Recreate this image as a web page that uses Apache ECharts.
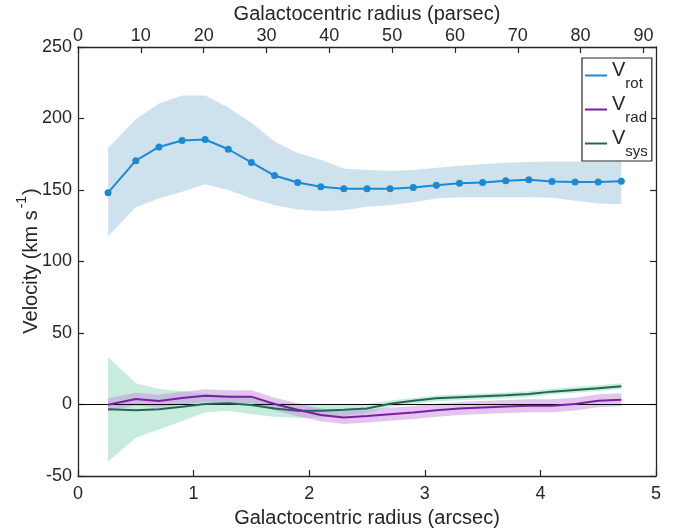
<!DOCTYPE html>
<html>
<head>
<meta charset="utf-8">
<script src="https://cdn.jsdelivr.net/npm/echarts@6/dist/echarts.min.js"></script>
<style>html,body{margin:0;padding:0;background:#fff;}#c{width:692px;height:531px;}</style>
</head>
<body>
<div id="c"></div>
<script>
// Galactocentric radius (arcsec)
var radius = [0.26, 0.5, 0.7, 0.9, 1.1, 1.3, 1.5, 1.7, 1.9, 2.1, 2.3, 2.5, 2.7, 2.9, 3.1, 3.3, 3.5, 3.7, 3.9, 4.1, 4.3, 4.5, 4.7];
// Rotation velocity and its uncertainty envelope
var vRot      = [148.1, 170.5, 180.1, 184.6, 185.3, 178.5, 169.3, 160.1, 155.2, 152.3, 150.9, 150.9, 150.8, 151.8, 153.3, 154.7, 155.2, 156.4, 157.1, 155.9, 155.6, 155.6, 156.1];
var vRotUpper = [179.4, 199.5, 210.5, 216, 216, 207.7, 197, 184, 175.9, 171.2, 165, 164, 163.5, 164, 165.5, 167, 168, 169, 169.5, 170, 170, 170, 170];
var vRotLower = [117.7, 138, 144, 148.8, 154, 150, 144, 139.4, 136.3, 135.4, 135.9, 138.2, 139.4, 141.5, 144, 145, 145, 145, 145, 144.5, 142.5, 140.5, 140];
// Radial velocity and envelope
var vRad      = [-0.2, 3.8, 2.4, 4.5, 6.2, 5.5, 5.5, 0.3, -3.7, -7.3, -9.1, -8, -6.8, -5.6, -4, -2.8, -2.1, -1.4, -0.9, -0.9, 0.3, 2.6, 3.3];
var vRadUpper = [4.3, 8.3, 6.9, 9, 10.7, 10, 10, 4.8, 0.8, -2.8, -4.6, -3.5, -2.3, -1.1, 0.5, 1.7, 2.4, 3.1, 3.6, 3.6, 4.8, 7.1, 7.8];
var vRadLower = [-4.7, -0.7, -2.1, 0, 1.7, 1, 1, -4.2, -8.2, -11.8, -13.6, -12.5, -11.3, -10.1, -8.5, -7.3, -6.6, -5.9, -5.4, -5.4, -4.2, -1.9, -1.2];
// Systemic velocity and envelope
var vSys      = [-3.3, -4, -3.3, -1.6, 0.3, 0.8, -0.4, -2.8, -4.4, -4.4, -3.7, -2.8, 0.5, 2.6, 4.3, 5, 5.7, 6.4, 7.3, 9, 10.2, 11.4, 12.8];
var vSysUpper = [33.3, 14.9, 10.9, 9.3, 7.4, 6.6, 5, 1.5, 0, -0.5, 0, 0.5, 2.8, 4.6, 6.3, 7, 7.7, 8.4, 9.3, 11, 12.2, 13.4, 14.8];
var vSysLower = [-39.8, -23.3, -17.4, -11.5, -5.6, -4.4, -6.8, -8.5, -9.5, -9, -8, -6, -2, 0.6, 2.3, 3, 3.7, 4.4, 5.3, 7, 8.2, 9.4, 10.8];
// Axis ticks
var yTicks = [-50, 0, 50, 100, 150, 200, 250];
var xTicksArcsec = [0, 1, 2, 3, 4, 5];
var xTicksParsec = [0, 10, 20, 30, 40, 50, 60, 70, 80, 90];
var parsecMax = 92;

var FONT = 'Liberation Sans';
var AX = '#262626';

function pairs(ys) { return radius.map(function (x, i) { return [x, ys[i]]; }); }

function band(name, upper, lower, color, z) {
  return {
    type: 'custom',
    name: name,
    z: z,
    silent: true,
    data: [0],
    renderItem: function (params, api) {
      var pts = [];
      for (var i = 0; i < radius.length; i++) pts.push(api.coord([radius[i], upper[i]]));
      for (var j = radius.length - 1; j >= 0; j--) pts.push(api.coord([radius[j], lower[j]]));
      return { type: 'polygon', shape: { points: pts }, style: { fill: color } };
    }
  };
}

var chart = echarts.init(document.getElementById('c'), null, { renderer: 'canvas' });
var axisCommon = {
  axisLine: { show: true, onZero: false, lineStyle: { color: AX, width: 1.3 } },
  axisTick: { show: true, inside: true, length: 6, lineStyle: { color: AX, width: 1.2 } },
  splitLine: { show: false },
  axisLabel: { color: AX, fontFamily: FONT, fontSize: 18 }
};
var option = {
  animation: false,
  backgroundColor: '#fff',
  grid: { left: 78, right: 36, top: 47, bottom: 55, containLabel: false, outerBoundsMode: 'none' },
  xAxis: [
    Object.assign({}, axisCommon, {
      type: 'value', position: 'bottom', min: xTicksArcsec[0], max: xTicksArcsec[xTicksArcsec.length - 1], interval: 1,
      name: 'Galactocentric radius (arcsec)', nameLocation: 'middle', nameGap: 32, nameMoveOverlap: false,
      nameTextStyle: { color: AX, fontFamily: FONT, fontSize: 20 },
      axisLabel: { color: AX, fontFamily: FONT, fontSize: 18, margin: 9 }
    }),
    Object.assign({}, axisCommon, {
      type: 'value', position: 'top', min: xTicksParsec[0], max: parsecMax, interval: 10,
      axisLabel: { color: AX, fontFamily: FONT, fontSize: 18, margin: 2, showMaxLabel: false,
        formatter: function (v) { return xTicksParsec.indexOf(v) >= 0 ? String(v) : ''; } }
    })
  ],
  yAxis: [
    Object.assign({}, axisCommon, {
      type: 'value', position: 'left', min: yTicks[0], max: yTicks[yTicks.length - 1], interval: 50,
      axisLabel: { color: AX, fontFamily: FONT, fontSize: 18, margin: 6 }
    }),
    Object.assign({}, axisCommon, {
      type: 'value', position: 'right', min: yTicks[0], max: yTicks[yTicks.length - 1], interval: 50,
      axisLabel: { show: false }
    })
  ],
  legend: {
    data: ['rot', 'rad', 'sys'],
    orient: 'vertical',
    left: 582, top: 58,
    backgroundColor: '#fff',
    borderColor: AX, borderWidth: 1.2, borderRadius: 0,
    padding: [2, 4, 2, 3],
    itemGap: 3,
    icon: 'rect', itemWidth: 22, itemHeight: 2,
    selectedMode: false,
    formatter: function (n) { return '{v|V}{s|' + n + '}'; },
    textStyle: {
      color: AX, fontFamily: FONT,
      rich: {
        v: { fontSize: 20, lineHeight: 22, verticalAlign: 'top', fontFamily: FONT, color: AX },
        s: { fontSize: 15, lineHeight: 31, verticalAlign: 'bottom', fontFamily: FONT, color: AX }
      }
    }
  },
  graphic: [
    {
      type: 'text', x: 367, y: 14, z: 10,
      style: {
        text: 'Galactocentric radius (parsec)', align: 'center', verticalAlign: 'middle',
        fontSize: 20, fontFamily: FONT, fill: AX
      }
    },
    {
      type: 'text', x: 28, y: 261, rotation: Math.PI / 2, z: 10,
      style: {
        text: '{a|Velocity (km s}{b|-1}{a|)}',
        align: 'center', verticalAlign: 'middle',
        rich: {
          a: { fontSize: 20, lineHeight: 24, fontFamily: FONT, fill: AX, verticalAlign: 'bottom' },
          b: { fontSize: 14, lineHeight: 26, fontFamily: FONT, fill: AX, verticalAlign: 'top', padding: [0, 1, 0, 2] }
        }
      }
    }
  ],
  series: [
    band('sysBand', vSysUpper, vSysLower, 'rgba(165,222,200,0.62)', 1),
    band('radBand', vRadUpper, vRadLower, 'rgba(200,140,225,0.5)', 2),
    band('rotBand', vRotUpper, vRotLower, 'rgba(190,216,232,0.75)', 1),
    {
      type: 'line', name: 'sys', data: pairs(vSys), z: 5,
      showSymbol: false, symbol: 'none', color: '#1d6a50',
      lineStyle: { color: '#1d6a50', width: 2 }
    },
    {
      type: 'line', name: 'rad', data: pairs(vRad), z: 6,
      showSymbol: false, symbol: 'none', color: '#7a1fa0',
      lineStyle: { color: '#7a1fa0', width: 2 },
      markLine: {
        silent: true, symbol: 'none', label: { show: false },
        lineStyle: { color: '#000', width: 1.2, type: 'solid' },
        data: [{ yAxis: 0 }]
      }
    },
    {
      type: 'line', name: 'rot', data: pairs(vRot), z: 7,
      symbol: 'circle', symbolSize: 7, color: '#1a8ad4',
      itemStyle: { color: '#1a8ad4' },
      lineStyle: { color: '#1a8ad4', width: 2 }
    }
  ]
};
chart.setOption(option);
</script>
</body>
</html>
